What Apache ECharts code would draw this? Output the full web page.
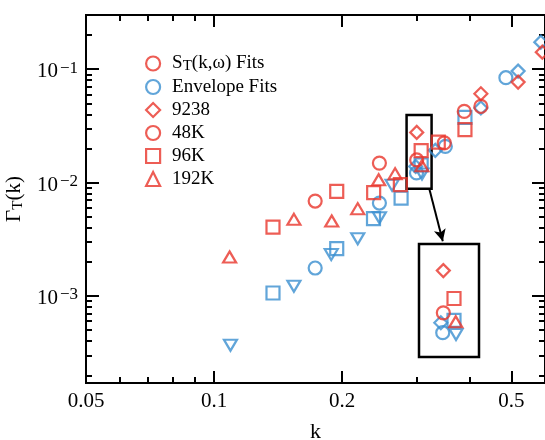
<!DOCTYPE html>
<html>
<head>
<meta charset="utf-8">
<script src="https://cdn.jsdelivr.net/npm/echarts@6/dist/echarts.min.js"></script>
<style>
  html, body { margin: 0; padding: 0; background: #fff; }
  #chart { width: 545px; height: 440px; }
</style>
</head>
<body>
<div id="chart"></div>
<script>
// Colours for the two fitting methods
const RED = '#e8342a';
const BLUE = '#3a8ecf';
const FONT = 'Liberation Serif';

// Axis ranges and ticks (log-log)
const kRange = [0.05, 0.6];
const gammaRange = [1.71e-4, 0.3];
const kLabelTicks = [0.05, 0.1, 0.2, 0.5];
const kMinorTicks = [0.06, 0.07, 0.08, 0.09, 0.3, 0.4, 0.6];
const gammaMajorTicks = [1e-3, 1e-2, 1e-1];
const gammaMinorTicks = [
  2e-4, 3e-4, 4e-4, 5e-4, 6e-4, 7e-4, 8e-4, 9e-4,
  2e-3, 3e-3, 4e-3, 5e-3, 6e-3, 7e-3, 8e-3, 9e-3,
  2e-2, 3e-2, 4e-2, 5e-2, 6e-2, 7e-2, 8e-2, 9e-2,
  2e-1
];

// Magnified region around k ≈ 0.3 and the arrow pointing to its blow-up
const zoomK = [0.2836, 0.3247];
const zoomGamma = [0.008806, 0.03939];
const zoomArrow = [[0.3207, 0.008806], [0.3450, 0.003034]];

// Legend entries
const legendNames = ['S_T(k,ω) Fits', 'Envelope Fits', '9238', '48K', '96K', '192K'];

// Γ_T(k) from S_T(k,ω) fits, [k, Γ]
const fit9238 = [[0.2996, 0.02768], [0.4240, 0.06072], [0.5187, 0.07683], [0.5913, 0.1412]];
const fit48K = [[0.1729, 0.006871], [0.2448, 0.01485], [0.2996, 0.01582], [0.3478, 0.02238], [0.3875, 0.04239], [0.4240, 0.04691]];
const fit96K = [[0.1376, 0.004054], [0.1943, 0.008367], [0.2373, 0.008147], [0.2742, 0.009583], [0.3069, 0.01912], [0.3367, 0.02274], [0.3890, 0.02924]];
const fit192K = [[0.1088, 0.002207], [0.1541, 0.00474], [0.1891, 0.004579], [0.2177, 0.005888], [0.2438, 0.0106], [0.2665, 0.01198], [0.3081, 0.01405]];

// Γ_T(k) from envelope fits, [k, Γ]
const env9238 = [[0.2979, 0.01387], [0.3313, 0.01922], [0.4240, 0.0455], [0.5187, 0.09603], [0.5865, 0.1729]];
const env48K = [[0.1729, 0.001765], [0.2448, 0.006598], [0.2992, 0.01215], [0.3498, 0.02084], [0.4855, 0.08398]];
const env96K = [[0.1376, 0.001063], [0.1943, 0.002616], [0.2371, 0.004807], [0.2753, 0.007302], [0.3069, 0.0143], [0.3890, 0.03753]];
const env192K = [[0.1093, 3.678e-4], [0.1541, 0.001218], [0.1886, 0.002317], [0.2177, 0.003203], [0.2448, 0.004906], [0.2622, 0.009447], [0.3083, 0.01188]];

const DOWN_TRIANGLE = 'path://M0,0L20,0L10,17Z';
const SIZE = 13;
const TRI_SIZE = [13, 11];

function hollow(color) {
  return { color: 'rgba(255,255,255,0)', borderColor: color, borderWidth: 2.2 };
}

function kAxis(position, ticks, len, extra) {
  return Object.assign({
    type: 'log', gridIndex: 0, position: position,
    min: kRange[0], max: kRange[1],
    axisLine: { show: true, onZero: false, lineStyle: { color: '#000', width: 2 } },
    axisTick: { show: true, inside: true, length: len, customValues: ticks, lineStyle: { color: '#000', width: 2 } },
    axisLabel: { show: false },
    splitLine: { show: false },
    minorTick: { show: false }
  }, extra || {});
}

function gammaAxis(position, ticks, len, extra) {
  return Object.assign({
    type: 'log', gridIndex: 0, position: position,
    min: gammaRange[0], max: gammaRange[1],
    axisLine: { show: true, onZero: false, lineStyle: { color: '#000', width: 2 } },
    axisTick: { show: true, inside: true, length: len, customValues: ticks, lineStyle: { color: '#000', width: 2 } },
    axisLabel: { show: false },
    splitLine: { show: false },
    minorTick: { show: false }
  }, extra || {});
}

const xAxes = [
  kAxis('bottom', kLabelTicks, 12, {
    name: 'k', nameLocation: 'middle', nameGap: 38,
    nameTextStyle: { fontFamily: FONT, fontSize: 22, color: '#000' },
    axisLabel: {
      show: true, customValues: kLabelTicks, margin: 8,
      fontFamily: FONT, fontSize: 21, color: '#000',
      formatter: v => String(+v.toPrecision(3))
    }
  }),
  kAxis('bottom', kMinorTicks, 6),
  kAxis('top', kLabelTicks, 12),
  kAxis('top', kMinorTicks, 6),
  // axes of the magnified inset
  { type: 'log', gridIndex: 1, min: zoomK[0], max: zoomK[1], show: false }
];

const yAxes = [
  gammaAxis('left', gammaMajorTicks, 13, {
    name: '{g|Γ}{s|T}{g|(k)}', nameLocation: 'middle', nameGap: 55,
    nameTextStyle: {
      color: '#000',
      rich: {
        g: { fontFamily: FONT, fontSize: 21, lineHeight: 24, color: '#000' },
        s: { fontFamily: FONT, fontSize: 15, lineHeight: 16, verticalAlign: 'bottom', color: '#000' }
      }
    },
    axisLabel: {
      show: true, customValues: gammaMajorTicks, margin: 8,
      padding: [5, 0, 0, 0],
      formatter: v => '{b|10}{e|−' + Math.abs(Math.round(Math.log10(v))) + '}',
      rich: {
        b: { fontFamily: FONT, fontSize: 21, lineHeight: 24, color: '#000' },
        e: { fontFamily: FONT, fontSize: 17, lineHeight: 12, verticalAlign: 'top', padding: [0, 0, 0, 2], color: '#000' }
      }
    }
  }),
  gammaAxis('left', gammaMinorTicks, 6),
  gammaAxis('right', gammaMajorTicks, 13),
  gammaAxis('right', gammaMinorTicks, 6),
  { type: 'log', gridIndex: 1, min: zoomGamma[0], max: zoomGamma[1], show: false }
];

function scatter(name, data, symbol, size, color, axis) {
  return {
    name: name, type: 'scatter', data: data,
    xAxisIndex: axis, yAxisIndex: axis,
    symbol: symbol, symbolSize: size,
    itemStyle: hollow(color),
    emphasis: { disabled: true },
    silent: true,
    clip: true
  };
}

const series = [];
// blue first so red markers sit on top
[0, 4].forEach(axis => {
  series.push(scatter('env-9238', env9238, 'diamond', SIZE, BLUE, axis));
  series.push(scatter('env-48K', env48K, 'circle', SIZE, BLUE, axis));
  series.push(scatter('env-96K', env96K, 'rect', SIZE, BLUE, axis));
  series.push(scatter('env-192K', env192K, DOWN_TRIANGLE, TRI_SIZE, BLUE, axis));
  const sfx = axis === 0 ? '' : '-inset';
  series.push(scatter('9238' + sfx, fit9238, 'diamond', SIZE, RED, axis));
  series.push(scatter('48K' + sfx, fit48K, 'circle', SIZE, RED, axis));
  series.push(scatter('96K' + sfx, fit96K, 'rect', SIZE, RED, axis));
  series.push(scatter('192K' + sfx, fit192K, 'triangle', TRI_SIZE, RED, axis));
});
// legend-only entries for the two methods
series.push(scatter(legendNames[0], [], 'circle', SIZE, RED, 0));
series.push(scatter(legendNames[1], [], 'circle', SIZE, BLUE, 0));
// box around the magnified region and the arrow to the inset
series.push({
  type: 'scatter', data: [], xAxisIndex: 0, yAxisIndex: 0, silent: true,
  markArea: {
    silent: true,
    itemStyle: { color: 'rgba(0,0,0,0)', borderColor: '#000', borderWidth: 2.5 },
    label: { show: false },
    data: [[{ coord: [zoomK[0], zoomGamma[1]] }, { coord: [zoomK[1], zoomGamma[0]] }]]
  },
  markLine: {
    silent: true, symbol: ['none', 'arrow'], symbolSize: [9, 12],
    lineStyle: { color: '#000', width: 2, type: 'solid' },
    label: { show: false },
    data: [[{ coord: zoomArrow[0] }, { coord: zoomArrow[1] }]]
  }
});

const legendIcons = ['circle', 'circle', 'diamond', 'circle', 'rect', 'triangle'];
const legendColors = [RED, BLUE, RED, RED, RED, RED];

const option = {
  animation: false,
  backgroundColor: '#fff',
  grid: [
    { left: 86, top: 15, width: 459, height: 368, outerBoundsMode: 'none', containLabel: false },
    { left: 419, top: 244, width: 60, height: 113, show: true, outerBoundsMode: 'none',
      borderColor: '#000', borderWidth: 2.5, backgroundColor: 'rgba(0,0,0,0)' }
  ],
  legend: {
    orient: 'vertical', left: 140, top: 49, padding: 5,
    itemWidth: 14, itemHeight: 14, itemGap: 4,
    selectedMode: false,
    data: legendNames.map((n, i) => ({
      name: n, icon: legendIcons[i], itemStyle: hollow(legendColors[i])
    })),
    formatter: n => n === legendNames[0]
      ? '{f|S}{s|T}{t|(k,ω) Fits}'
      : '{f|' + n + '}',
    textStyle: {
      rich: {
        f: { fontFamily: FONT, fontSize: 19, lineHeight: 20, padding: [0, 0, 0, 7], color: '#000' },
        t: { fontFamily: FONT, fontSize: 19, lineHeight: 20, color: '#000' },
        s: { fontFamily: FONT, fontSize: 15, lineHeight: 15, verticalAlign: 'bottom', color: '#000' }
      }
    }
  },
  xAxis: xAxes,
  yAxis: yAxes,
  series: series
};

const chart = echarts.init(document.getElementById('chart'), null, { renderer: 'canvas' });
chart.setOption(option);
</script>
</body>
</html>
